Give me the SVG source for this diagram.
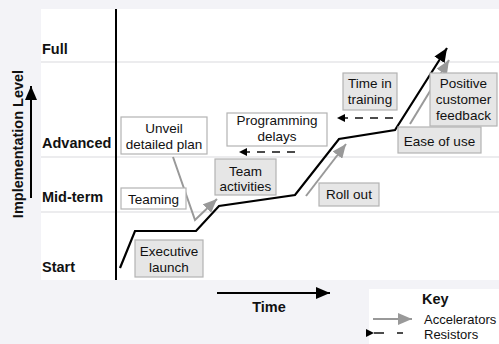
<svg xmlns="http://www.w3.org/2000/svg" width="499" height="344" viewBox="0 0 499 344">
  <style>
    text { font-family: "Liberation Sans", Arial, Helvetica, sans-serif; fill: #111; }
    .lbl { font-size: 13.5px; text-anchor: middle; }
    .bold { font-weight: bold; font-size: 14.5px; }
    .box-w { fill: #ffffff; stroke: #b3b3b3; stroke-width: 1.2; }
    .box-g { fill: #e6e6e6; stroke: #b3b3b3; stroke-width: 1.2; }
    .grid { stroke: #e6e6e9; stroke-width: 1.5; }
    .acc { fill: none; stroke: #999999; stroke-width: 2; marker-end: url(#accHead); }
    .res { fill: none; stroke: #111; stroke-width: 1.5; stroke-dasharray: 8 7; }
    .path { fill: none; stroke: #000; stroke-width: 2.2; stroke-linejoin: miter; }
  </style>
  <defs>
    <marker id="accHead" markerUnits="userSpaceOnUse" markerWidth="16" markerHeight="12" refX="14" refY="6" orient="auto">
      <path d="M0,0 L14,6 L0,12 Z" fill="#999999"/>
    </marker>
    <marker id="blkHead" markerUnits="userSpaceOnUse" markerWidth="16" markerHeight="12" refX="14" refY="6" orient="auto">
      <path d="M0,0 L14,6 L0,12 Z" fill="#000"/>
    </marker>
    <marker id="resHead" markerUnits="userSpaceOnUse" markerWidth="9" markerHeight="8" refX="8" refY="4" orient="auto">
      <path d="M0,0 L8,4 L0,8 Z" fill="#000"/>
    </marker>
  </defs>

  <!-- page background and chart field -->
  <rect x="0" y="0" width="499" height="344" fill="#f3f3f7"/>
  <rect x="41" y="9" width="458" height="271" fill="#ffffff"/>
  <g id="grid">
    <line class="grid" x1="41" y1="62" x2="499" y2="62"/>
    <line class="grid" x1="41" y1="157" x2="499" y2="157"/>
    <line class="grid" x1="41" y1="212" x2="499" y2="212"/>
  </g>
  <line x1="116" y1="9" x2="116" y2="280" stroke="#000" stroke-width="2"/>

  <!-- level labels -->
  <g id="levels">
    <text class="bold" x="42" y="54">Full</text>
    <text class="bold" x="42" y="148">Advanced</text>
    <text class="bold" x="42" y="202">Mid-term</text>
    <text class="bold" x="42" y="272">Start</text>
  </g>

  <!-- axes -->
  <g id="y-axis">
    <text class="bold" transform="translate(22.5,144) rotate(-90)" text-anchor="middle" font-size="15.5">Implementation Level</text>
    <line x1="31" y1="198" x2="31" y2="86" stroke="#000" stroke-width="2" marker-end="url(#blkHead)"/>
  </g>
  <g id="x-axis">
    <line x1="217" y1="293" x2="330" y2="293" stroke="#000" stroke-width="2" marker-end="url(#blkHead)"/>
    <text class="bold" x="269" y="312" text-anchor="middle">Time</text>
  </g>

  <!-- connectors: implementation path, accelerators, resistors -->
  <g id="connectors">
    <polyline class="path" points="120,268 135,231 196,231 219,206 295,195 339,139 395,130 447,48" marker-end="url(#blkHead)"/>
    <polyline class="acc" points="173,157 195,220 217,199"/>
    <line class="acc" x1="306" y1="196" x2="346" y2="144"/>
    <line class="acc" x1="410" y1="124" x2="449" y2="60"/>
    <line class="res" x1="295" y1="152" x2="239" y2="152" marker-end="url(#resHead)"/>
    <line class="res" x1="393" y1="118" x2="337" y2="118" marker-end="url(#resHead)"/>
  </g>

  <!-- event nodes -->
  <g id="unveil">
    <rect class="box-w" x="121" y="117" width="86" height="37"/>
    <text class="lbl" x="164" y="133">Unveil</text>
    <text class="lbl" x="164" y="149">detailed plan</text>
  </g>
  <g id="programming">
    <rect class="box-w" x="227" y="113" width="100" height="33"/>
    <text class="lbl" x="277" y="125">Programming</text>
    <text class="lbl" x="277" y="141">delays</text>
  </g>
  <g id="team-activities">
    <rect class="box-g" x="215" y="159" width="61" height="36"/>
    <text class="lbl" x="245.5" y="176">Team</text>
    <text class="lbl" x="245.5" y="191">activities</text>
  </g>
  <g id="teaming">
    <rect class="box-w" x="121" y="188" width="65" height="21"/>
    <text class="lbl" x="153.5" y="204">Teaming</text>
  </g>
  <g id="executive">
    <rect class="box-g" x="135" y="240" width="68" height="37"/>
    <text class="lbl" x="169" y="256">Executive</text>
    <text class="lbl" x="169" y="272">launch</text>
  </g>
  <g id="roll-out">
    <rect class="box-g" x="319" y="183" width="60" height="23"/>
    <text class="lbl" x="349" y="199">Roll out</text>
  </g>
  <g id="ease">
    <rect class="box-g" x="398" y="127" width="83" height="26"/>
    <text class="lbl" x="439.5" y="146">Ease of use</text>
  </g>
  <g id="training">
    <rect class="box-g" x="343" y="73" width="54" height="37"/>
    <text class="lbl" x="370" y="88">Time in</text>
    <text class="lbl" x="370" y="104">training</text>
  </g>
  <g id="feedback">
    <rect class="box-g" x="430" y="73" width="67" height="53"/>
    <text class="lbl" x="463.5" y="88">Positive</text>
    <text class="lbl" x="463.5" y="104">customer</text>
    <text class="lbl" x="463.5" y="120">feedback</text>
  </g>

  <!-- legend -->
  <g id="key">
    <rect x="369" y="289" width="131" height="56" fill="#ffffff"/>
    <text class="bold" x="422" y="304" font-size="13.5">Key</text>
    <line class="acc" x1="373" y1="319" x2="412" y2="319"/>
    <text x="424" y="324" font-size="13">Accelerators</text>
    <line x1="374" y1="333" x2="384" y2="333" stroke="#111" stroke-width="1.5" marker-start="url(#resHead)"/>
    <line x1="397" y1="333" x2="403" y2="333" stroke="#111" stroke-width="1.5"/>
    <text x="424" y="339" font-size="13">Resistors</text>
  </g>
</svg>
